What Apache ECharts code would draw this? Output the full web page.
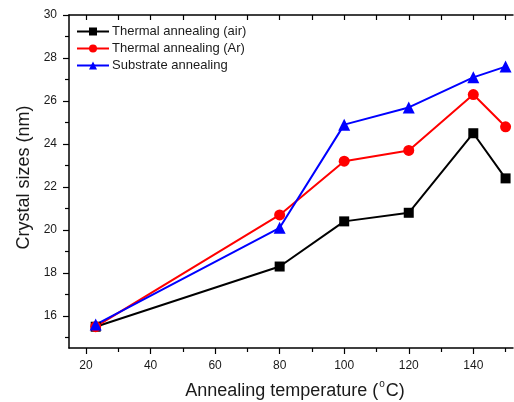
<!DOCTYPE html>
<html>
<head>
<meta charset="utf-8">
<script src="https://cdn.jsdelivr.net/npm/echarts@6/dist/echarts.min.js"></script>
<style>
  html, body { margin: 0; padding: 0; background: #fff; }
  #chart { width: 514px; height: 402px; }
</style>
</head>
<body>
<div id="chart"></div>
<script>
// Annealing temperature (°C) for each sample
const temperatures = [23, 80, 100, 120, 140, 150];
// Crystal sizes (nm)
const airAnnealing = [15.5, 18.3, 20.4, 20.8, 24.5, 22.4];
const argonAnnealing = [15.5, 20.7, 23.2, 23.7, 26.3, 24.8];
const substrateAnnealing = [15.6, 20.1, 24.9, 25.7, 27.1, 27.6];
const seriesNames = ['Thermal annealing (air)', 'Thermal annealing (Ar)', 'Substrate annealing'];

// Tick positions
const xMajorTicks = [20, 40, 60, 80, 100, 120, 140];
const xMinorTicks = [30, 50, 70, 90, 110, 130, 150];
const xAllTicks = [20, 30, 40, 50, 60, 70, 80, 90, 100, 110, 120, 130, 140, 150];
const yMajorTicks = [16, 18, 20, 22, 24, 26, 28, 30];
const yMinorTicks = [15, 17, 19, 21, 23, 25, 27, 29];

const X_MIN = 14.73, X_MAX = 152.3;
const Y_MIN = 14.51, Y_MAX = 30;
const FONT = 'Liberation Sans, Arial, sans-serif';
const INK = '#1a1a1a';

const pairs = (ys) => temperatures.map((t, i) => [t, ys[i]]);

const chart = echarts.init(document.getElementById('chart'), null, { renderer: 'canvas' });

const plainAxis = (extra) => Object.assign({
  type: 'value',
  splitLine: { show: false },
  axisLine: { show: false },
  axisLabel: { show: false },
  axisTick: { show: false }
}, extra);

chart.setOption({
  animation: false,
  backgroundColor: '#fff',
  grid: { left: 69, right: 1, top: 15, bottom: 54, containLabel: false, outerBoundsMode: 'none' },
  legend: {
    orient: 'vertical',
    left: 76,
    top: 25,
    padding: 0,
    itemWidth: 32,
    itemHeight: 10,
    itemGap: 4,
    textStyle: { fontFamily: FONT, fontSize: 13, color: INK, padding: [0, 0, 0, -2] },
    data: seriesNames
  },
  xAxis: [
    {
      type: 'value', min: X_MIN, max: X_MAX, position: 'bottom',
      splitLine: { show: false },
      axisLine: { show: true, onZero: false, lineStyle: { color: '#000', width: 1.5 } },
      axisTick: { show: true, inside: false, length: 6, customValues: xMajorTicks, lineStyle: { color: '#000', width: 1.2 } },
      axisLabel: { show: true, margin: 12, customValues: xMajorTicks, fontFamily: FONT, fontSize: 12, color: INK },
      name: 'Annealing temperature ({sup|o}C)',
      nameLocation: 'middle',
      nameGap: 31,
      nameTextStyle: {
        fontFamily: FONT, fontSize: 18, lineHeight: 24, color: INK, padding: [0, 0, 0, 8],
        rich: { sup: { fontFamily: FONT, fontSize: 10, color: INK, verticalAlign: 'top', lineHeight: 10, padding: [0, 1, 0, 1] } }
      }
    },
    plainAxis({
      min: X_MIN, max: X_MAX, position: 'bottom',
      axisLine: { show: false, onZero: false },
      axisTick: { show: true, inside: false, length: 4, customValues: xMinorTicks, lineStyle: { color: '#000', width: 1.2 } }
    }),
    plainAxis({
      min: X_MIN, max: X_MAX, position: 'top',
      axisLine: { show: true, onZero: false, lineStyle: { color: '#000', width: 1.5 } },
      axisTick: { show: true, inside: true, length: 5, customValues: xAllTicks, lineStyle: { color: '#000', width: 1.2 } }
    })
  ],
  yAxis: [
    {
      type: 'value', min: Y_MIN, max: Y_MAX, position: 'left',
      splitLine: { show: false },
      axisLine: { show: true, onZero: false, lineStyle: { color: '#000', width: 1.5 } },
      axisTick: { show: true, inside: false, length: 6, customValues: yMajorTicks, lineStyle: { color: '#000', width: 1.2 } },
      axisLabel: { show: true, margin: 12, customValues: yMajorTicks, fontFamily: FONT, fontSize: 12, color: INK },
      name: 'Crystal sizes (nm)',
      nameLocation: 'middle',
      nameGap: 36,
      nameTextStyle: { fontFamily: FONT, fontSize: 18, color: INK, padding: [0, 0, 0, 8] }
    },
    plainAxis({
      min: Y_MIN, max: Y_MAX, position: 'left',
      axisTick: { show: true, inside: false, length: 4, customValues: yMinorTicks, lineStyle: { color: '#000', width: 1.2 } }
    })
  ],
  series: [
    {
      name: seriesNames[0], type: 'line', xAxisIndex: 0, yAxisIndex: 0,
      data: pairs(airAnnealing),
      symbol: 'rect', symbolSize: 10,
      itemStyle: { color: '#000' },
      lineStyle: { color: '#000', width: 2 }
    },
    {
      name: seriesNames[1], type: 'line', xAxisIndex: 0, yAxisIndex: 0,
      data: pairs(argonAnnealing),
      symbol: 'circle', symbolSize: 11,
      itemStyle: { color: '#ff0000' },
      lineStyle: { color: '#ff0000', width: 2 }
    },
    {
      name: seriesNames[2], type: 'line', xAxisIndex: 0, yAxisIndex: 0,
      data: pairs(substrateAnnealing),
      symbol: 'triangle', symbolSize: 12,
      itemStyle: { color: '#0000ff' },
      lineStyle: { color: '#0000ff', width: 2 }
    }
  ]
});
</script>
</body>
</html>
